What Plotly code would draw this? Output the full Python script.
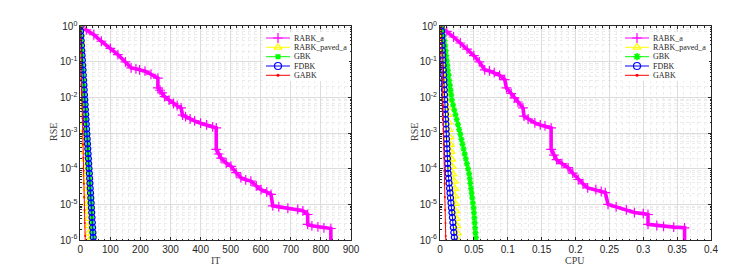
import plotly.graph_objects as go

# ---------------- data ----------------
# RABK_a  (left: iterations, right: CPU time)
rabk_it = [0, 20, 45, 70, 100, 125, 150, 169, 185, 197, 215, 235, 258, 258, 265, 272, 280, 295, 310, 322, 335,
           340, 350, 365, 380, 400, 420, 440, 452, 452, 460, 468, 485, 501, 518, 534, 550, 567, 585, 601,
           620, 634, 640, 660, 690, 723, 740, 756, 756, 770, 790, 810, 833, 833]
rabk_it_rse = [1.0, 0.8, 0.58, 0.38, 0.24, 0.16, 0.1, 0.068, 0.064, 0.06, 0.055, 0.045, 0.035, 0.0186, 0.016,
               0.0135, 0.0107, 0.0085, 0.0068, 0.0059, 0.0051, 0.0032, 0.0029, 0.0025, 0.0022, 0.0019,
               0.0017, 0.0015, 0.0014, 0.00035, 0.00026, 0.0002, 0.000145, 0.000117, 7.8e-5, 5.6e-5, 4.9e-5,
               4.5e-5, 3.3e-5, 2.6e-5, 2.2e-5, 1.9e-5, 9.1e-6, 8.5e-6, 7.8e-6, 7.2e-6, 6.6e-6, 5.2e-6,
               2.75e-6, 2.5e-6, 2.35e-6, 2.2e-6, 2.1e-6, 5e-7]
rabk_cpu = [0, 0.01, 0.02, 0.03, 0.04, 0.05, 0.058, 0.066, 0.073, 0.08, 0.088, 0.0955, 0.098, 0.105, 0.11,
            0.115, 0.1225, 0.124, 0.13, 0.14, 0.148, 0.155, 0.164, 0.164, 0.168, 0.172, 0.18, 0.189, 0.196,
            0.204, 0.211, 0.218, 0.23, 0.238, 0.244, 0.248, 0.26, 0.275, 0.287, 0.3, 0.307, 0.307, 0.32,
            0.33, 0.345, 0.361, 0.361]
rabk_cpu_rse = [1.0, 0.72, 0.5, 0.34, 0.23, 0.15, 0.1, 0.06, 0.056, 0.05, 0.042, 0.032, 0.0186, 0.013, 0.0098,
                0.0075, 0.0051, 0.003, 0.0025, 0.00195, 0.0017, 0.0016, 0.0014, 0.00035, 0.00024, 0.00018,
                0.00014, 0.000107, 7.5e-5, 5e-5, 3.8e-5, 2.9e-5, 2.6e-5, 2.3e-5, 2.15e-5, 1e-5, 8.5e-6,
                7e-6, 5.9e-6, 5.5e-6, 5.2e-6, 2.75e-6, 2.55e-6, 2.4e-6, 2.3e-6, 2.2e-6, 5e-7]

# RABK_paved_a
paved_rse = [1.0, 0.6, 0.37, 0.23, 0.145, 0.09, 0.056, 0.035, 0.022, 0.0135, 0.0085, 0.0052, 0.0033, 0.002,
             0.00125, 7.8e-4, 4.8e-4, 3.0e-4, 1.85e-4, 1.15e-4, 7.1e-5, 4.4e-5, 2.75e-5, 1.7e-5, 1.05e-5,
             6.5e-6, 4.0e-6, 2.5e-6, 1.55e-6, 9.6e-7]
paved_cpu = [0.0020, 0.0028, 0.0036, 0.0044, 0.0052, 0.0060, 0.0067, 0.0073, 0.0080, 0.0086, 0.0093, 0.0103,
             0.0113, 0.0123, 0.0133, 0.0143, 0.0152, 0.0162, 0.0172, 0.0182, 0.0190, 0.0215, 0.0218, 0.0222,
             0.0226, 0.0231, 0.0240, 0.0248, 0.0257, 0.0266]

# GBK
gbk_rse = [1.0, 0.74, 0.53, 0.39, 0.28, 0.205, 0.15, 0.108, 0.079, 0.057, 0.042, 0.030, 0.022, 0.016, 0.0118,
           0.0085, 0.0062, 0.0045, 0.0033, 0.0024, 0.00175, 0.00127, 9.3e-4, 6.7e-4, 4.9e-4, 3.6e-4, 2.6e-4,
           1.9e-4, 1.38e-4, 1.0e-4, 7.3e-5, 5.3e-5, 3.9e-5, 2.8e-5, 2.05e-5, 1.5e-5, 1.09e-5, 7.9e-6, 5.8e-6,
           4.2e-6, 3.05e-6, 2.2e-6, 1.6e-6, 1.17e-6, 8.5e-7]
gbk_cpu = [0.0025, 0.0040, 0.0053, 0.0065, 0.0075, 0.0084, 0.0092, 0.0100, 0.0109, 0.0118, 0.0128, 0.0137,
           0.0147, 0.0156, 0.0166, 0.0175, 0.0193, 0.0211, 0.0229, 0.0247, 0.0265, 0.0283, 0.0300, 0.0316,
           0.0332, 0.0348, 0.0364, 0.0380, 0.0396, 0.0413, 0.0430, 0.0439, 0.0448, 0.0458, 0.0467, 0.0476,
           0.0485, 0.0495, 0.0501, 0.0507, 0.0512, 0.0518, 0.0524, 0.0530, 0.0536]

# FDBK
fdbk_rse = [1.0, 0.73, 0.54, 0.4, 0.29, 0.21, 0.155, 0.112, 0.081, 0.059, 0.043, 0.031, 0.0226, 0.0165, 0.012,
            0.0087, 0.0064, 0.0046, 0.0034, 0.00245, 0.0018, 0.0013, 9.5e-4, 6.9e-4, 5.0e-4, 3.65e-4, 2.65e-4,
            1.93e-4, 1.4e-4, 1.02e-4, 7.4e-5, 5.4e-5, 3.95e-5, 2.85e-5, 2.1e-5, 1.52e-5, 1.1e-5, 8.0e-6,
            5.9e-6, 4.3e-6, 3.1e-6, 2.25e-6, 1.63e-6, 1.19e-6, 8.7e-7]
fdbk_cpu = [0.0020, 0.0023, 0.0027, 0.0030, 0.0034, 0.0037, 0.0040, 0.0044, 0.0047, 0.0050, 0.0054, 0.0057,
            0.0060, 0.0064, 0.0067, 0.0070, 0.0073, 0.0077, 0.0080, 0.0083, 0.0087, 0.0090, 0.0093, 0.0096,
            0.0100, 0.0103, 0.0106, 0.0110, 0.0113, 0.0116, 0.0120, 0.0127, 0.0134, 0.0141, 0.0148, 0.0155,
            0.0162, 0.0169, 0.0176, 0.0183, 0.0190, 0.0197, 0.0204, 0.0211, 0.0218]

# GABK
gabk_rse = [1.0, 0.42, 0.18, 0.078, 0.033, 0.0142, 0.0061, 0.0026, 0.00112, 4.8e-4, 2.05e-4, 8.8e-5, 3.8e-5,
            1.62e-5, 7e-6, 3e-6, 1.3e-6, 5.6e-7]
gabk_cpu = [0.0020, 0.0024, 0.0028, 0.0032, 0.0036, 0.0040, 0.0044, 0.0048, 0.0052, 0.0056, 0.0060, 0.0064,
            0.0068, 0.0072, 0.0076, 0.0080, 0.0084, 0.0088]

series_names = ["RABK_a", "RABK_paved_a", "GBK", "FDBK", "GABK"]
y_tickvals = [1e-6, 1e-5, 1e-4, 1e-3, 1e-2, 1e-1, 1]
y_ticktext = ["10<sup>-6</sup>", "10<sup>-5</sup>", "10<sup>-4</sup>", "10<sup>-3</sup>",
              "10<sup>-2</sup>", "10<sup>-1</sup>", "10<sup>0</sup>"]
x1_ticks = [0, 100, 200, 300, 400, 500, 600, 700, 800, 900]
x2_ticks = [0, 0.05, 0.1, 0.15, 0.2, 0.25, 0.3, 0.35, 0.4]
x2_ticktext = ["0", "0.05", "0.1", "0.15", "0.2", "0.25", "0.3", "0.35", "0.4"]

# ---------------- styles ----------------
MAG, YEL, GRN, BLU, RED = "#ff00ff", "#ffff00", "#00ff00", "#0000ff", "#ff0000"
W, H = 748, 269

fig = go.Figure()

def add(x, y, xa, ya, color, symbol, size, lw=1.0, mlw=1.0):
    fig.add_trace(go.Scatter(
        x=x, y=y, xaxis=xa, yaxis=ya, mode="lines+markers", showlegend=False,
        line=dict(color=color, width=lw),
        marker=dict(symbol=symbol, size=size, color=color,
                    line=dict(color=color, width=mlw))))

# left subplot (iterations)
add(rabk_it, rabk_it_rse, "x", "y", MAG, "cross-thin-open", 7, lw=3.6, mlw=1.2)
add(list(range(len(paved_rse))), paved_rse, "x", "y", YEL, "triangle-up-open", 7, mlw=1.3)
add(list(range(len(gbk_rse))), gbk_rse, "x", "y", GRN, "square", 4, mlw=0)
add(list(range(len(fdbk_rse))), fdbk_rse, "x", "y", BLU, "circle-open", 6, mlw=1.2)
add(list(range(len(gabk_rse))), gabk_rse, "x", "y", RED, "circle", 2, mlw=0)

# right subplot (CPU)
add(rabk_cpu, rabk_cpu_rse, "x2", "y2", MAG, "cross-thin-open", 7, lw=3.6, mlw=1.2)
add(paved_cpu, paved_rse, "x2", "y2", YEL, "triangle-up-open", 7, mlw=1.3)
add(gbk_cpu, gbk_rse, "x2", "y2", GRN, "asterisk-open", 5, mlw=1.5)
add(fdbk_cpu, fdbk_rse, "x2", "y2", BLU, "circle-open", 6, mlw=1.2)
add(gabk_cpu, gabk_rse, "x2", "y2", RED, "circle", 2, mlw=0)

# ---------------- manual legends on overlay pixel axes ----------------
rows = [30, 39.3, 48.7, 58.0, 67.3]
leg_styles = [(MAG, "cross-thin-open", 7, 1.2), (YEL, "triangle-up-open", 7, 1.2),
              (GRN, "square", 5, 0), (BLU, "circle-open", 7, 1.2), (RED, "circle", 3, 0)]
leg_styles_r = [(MAG, "cross-thin-open", 7, 1.2), (YEL, "triangle-up-open", 7, 1.2),
                (GRN, "asterisk-open", 6, 1.6), (BLU, "circle-open", 7, 1.2), (RED, "circle", 3, 0)]
annotations = []
for (bx0, bx1, lx0, lx1, mx, tx, styles) in [(255, 341, 258, 282, 270, 284, leg_styles),
                                             (614, 701, 617, 641, 629, 643, leg_styles_r)]:
    fig.add_trace(go.Scatter(x=[bx0, bx1, bx1, bx0, bx0], y=[24, 24, 73, 73, 24], xaxis="x3", yaxis="y3",
                             mode="lines", fill="toself", fillcolor="white", line=dict(width=0),
                             showlegend=False, hoverinfo="skip"))
    for ry, name, (c, s, sz, mlw) in zip(rows, series_names, styles):
        fig.add_trace(go.Scatter(x=[lx0, lx1], y=[ry, ry], xaxis="x3", yaxis="y3", mode="lines",
                                 line=dict(color=c, width=1), showlegend=False, hoverinfo="skip"))
        fig.add_trace(go.Scatter(x=[mx], y=[ry], xaxis="x3", yaxis="y3", mode="markers",
                                 marker=dict(symbol=s, size=sz, color=c, line=dict(color=c, width=mlw)),
                                 showlegend=False, hoverinfo="skip"))
        annotations.append(dict(x=tx, y=ry, xref="x3", yref="y3", text=name, showarrow=False,
                                xanchor="left", yanchor="middle",
                                font=dict(family="Liberation Serif", size=8, color="#262626")))

# axis titles
title_font = dict(family="Liberation Serif", size=10, color="#404040")
for (x, y, t, ang) in [(207, 252, "IT", 0), (567, 252, "CPU", 0), (45, 124, "RSE", -90), (406, 124, "RSE", -90)]:
    annotations.append(dict(x=x, y=y, xref="x3", yref="y3", text=t, showarrow=False, textangle=ang,
                            xanchor="center", yanchor="middle", font=title_font))

tick_font = dict(family="Liberation Sans", size=10, color="#262626")
GRID, MINOR = "#dcdcdc", "#ececec"
left_px, right_px = (72.3, 343.0), (432.0, 703.0)
ydom = [(H - 232) / H, (H - 18.3) / H]

def xax(dom, rng, tv, tt, minor_dt):
    return dict(domain=[dom[0] / W, dom[1] / W], range=rng, tickmode="array", tickvals=tv, ticktext=tt,
                showgrid=True, gridcolor=GRID, gridwidth=1, zeroline=False,
                showline=True, linecolor="#262626", linewidth=1, mirror="ticks",
                ticks="inside", ticklen=3, tickcolor="#262626", tickfont=tick_font,
                minor=dict(dtick=minor_dt, tick0=0, showgrid=True, gridcolor=MINOR, griddash="dot",
                           ticks="inside", ticklen=1.5, tickcolor="#262626"),
                fixedrange=True, automargin=False)

def yax(anchor):
    return dict(domain=ydom, type="log", range=[-6, 0], anchor=anchor, tickmode="array",
                tickvals=y_tickvals, ticktext=y_ticktext,
                showgrid=True, gridcolor=GRID, zeroline=False,
                showline=True, linecolor="#262626", linewidth=1, mirror="ticks",
                ticks="inside", ticklen=3, tickcolor="#262626", tickfont=tick_font,
                minor=dict(dtick="D1", showgrid=True, gridcolor=MINOR, griddash="dot",
                           ticks="inside", ticklen=1.5, tickcolor="#262626"),
                fixedrange=True, automargin=False)

fig.update_layout(
    width=W, height=H, margin=dict(l=0, r=0, t=0, b=0),
    paper_bgcolor="white", plot_bgcolor="rgba(0,0,0,0)", showlegend=False,
    xaxis=dict(xax(left_px, [0, 900], x1_ticks, [str(v) for v in x1_ticks], 20), anchor="y"),
    yaxis=yax("x"),
    xaxis2=dict(xax(right_px, [0, 0.4], x2_ticks, x2_ticktext, 0.01), anchor="y2"),
    yaxis2=yax("x2"),
    xaxis3=dict(domain=[0, 1], range=[0, W], visible=False, anchor="y3", fixedrange=True),
    yaxis3=dict(domain=[0, 1], range=[H, 0], visible=False, anchor="x3", fixedrange=True),
    annotations=annotations,
)

fig.write_html("out.html")
